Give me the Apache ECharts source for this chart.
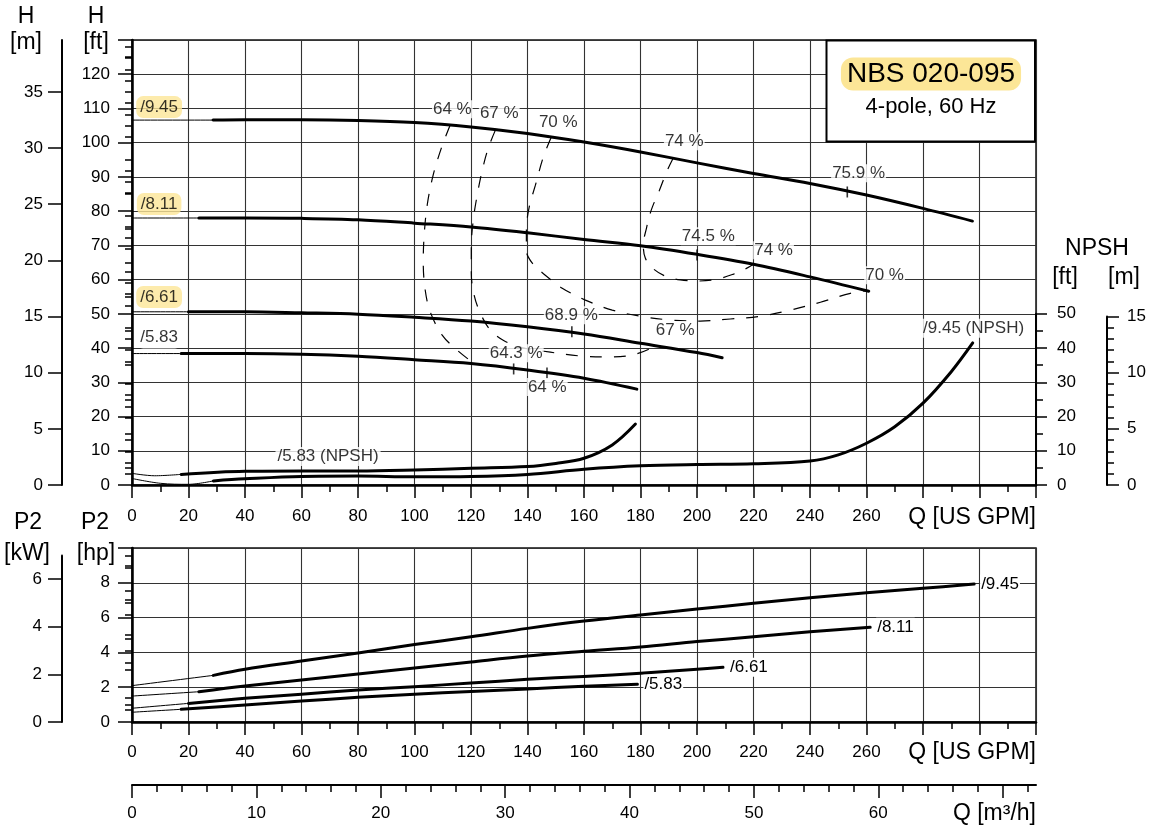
<!DOCTYPE html>
<html><head><meta charset="utf-8">
<script src="https://cdn.jsdelivr.net/npm/echarts@6/dist/echarts.min.js"></script>
<style>html,body{margin:0;padding:0;background:#fff}#c{width:1152px;height:834px}</style>
</head><body><div id="c"></div>
<script>
// ---------- tick labels ----------
const qTickLabels = [0,20,40,60,80,100,120,140,160,180,200,220,240,260];
const hFtTickLabels = [0,10,20,30,40,50,60,70,80,90,100,110,120];
const hMTickLabels = [0,5,10,15,20,25,30,35];
const npshFtTickLabels = [0,10,20,30,40,50];
const npshMTickLabels = [0,5,10,15];
const p2HpTickLabels = [0,2,4,6,8];
const p2KwTickLabels = [0,2,4,6];
const qM3hTicks = [0,10,20,30,40,50,60,70];
const qM3hTickLabels = [0,10,20,30,40,50,60];

// ---------- head curves H [ft] vs Q [US GPM] (index 0 -> 1 is the thin extension) ----------
const qH945 = [0, 28.7, 40, 60, 80, 100, 120, 140, 160, 180, 200, 220, 240, 260, 280, 297.5];
const hH945 = [106.6, 106.6, 106.7, 106.7, 106.5, 105.9, 104.6, 102.7, 100.2, 97.3, 94.1, 91.0, 88.1, 84.7, 80.8, 77.1];
const qH811 = [0, 23.7, 40, 60, 80, 100, 120, 140, 160, 180, 200, 220, 240, 260.8];
const hH811 = [78.0, 78.0, 78.0, 77.9, 77.5, 76.5, 75.4, 73.7, 71.7, 69.9, 67.4, 64.5, 60.8, 56.6];
const qH661 = [0, 20, 40, 60, 80, 100, 120, 140, 160, 180, 200, 208.9];
const hH661 = [50.6, 50.6, 50.6, 50.3, 49.9, 49.0, 47.9, 46.2, 44.1, 41.4, 38.7, 37.2];
const qH583 = [0, 17.4, 40, 60, 80, 100, 120, 140, 160, 178.7];
const hH583 = [38.4, 38.4, 38.4, 38.2, 37.6, 36.6, 35.5, 33.6, 31.2, 28.0];

// ---------- NPSH [ft] ----------
const qN945 = [0, 10, 20, 28.8, 40, 60, 80, 100, 120, 140, 160, 180, 200, 220, 240, 250, 260, 270, 280, 290, 297.6];
const nN945 = [1.9, 0.5, 0.2, 1.2, 1.8, 2.5, 2.6, 2.4, 2.5, 3.1, 4.6, 5.6, 6.0, 6.2, 7.0, 8.8, 12.2, 17.0, 23.9, 33.1, 41.5];
const qN583 = [0, 8, 17.4, 40, 60, 80, 100, 120, 140, 150, 160, 170, 178.2];
const nN583 = [3.4, 2.7, 3.1, 4.0, 4.1, 4.1, 4.4, 4.9, 5.4, 6.3, 7.8, 11.7, 17.8];

// ---------- P2 [hp] ----------
const qP945 = [0, 28.8, 40, 60, 80, 100, 120, 140, 160, 180, 200, 220, 240, 260, 280, 298.1];
const pP945 = [2.09, 2.68, 3.03, 3.5, 3.97, 4.45, 4.9, 5.38, 5.8, 6.15, 6.49, 6.82, 7.14, 7.43, 7.68, 7.93];
const qP811 = [0, 23.7, 40, 60, 80, 100, 120, 140, 160, 180, 200, 220, 240, 261.3];
const pP811 = [1.49, 1.74, 2.07, 2.41, 2.76, 3.1, 3.45, 3.79, 4.06, 4.31, 4.62, 4.9, 5.19, 5.44];
const qP661 = [0, 20, 40, 60, 80, 100, 120, 140, 160, 180, 200, 209.2];
const pP661 = [0.79, 1.07, 1.36, 1.6, 1.84, 2.03, 2.24, 2.45, 2.62, 2.8, 3.03, 3.14];
const qP583 = [0, 17.4, 40, 60, 80, 100, 120, 140, 160, 178.9];
const pP583 = [0.56, 0.73, 0.98, 1.2, 1.42, 1.6, 1.75, 1.9, 2.05, 2.17];

// ---------- iso-efficiency contours (Q, H ft) ----------
const qE64 = [112.6, 109.5, 106.6, 104.5, 103.4, 103.1, 103.8, 105.6, 109.8, 115.1, 120.4];
const hE64 = [105.1, 98.4, 90.5, 81.8, 72.7, 65.1, 56.9, 50.5, 43.8, 39.4, 35.9];
const qE67 = [128.6, 126.1, 124.0, 122.2, 120.8, 120.1, 120.1, 121.1, 123.3, 126.8, 131.4, 137.4, 148.1, 158.7, 169.3, 178.2, 185.3];
const hE67 = [103.6, 98.4, 92.0, 84.7, 77.4, 69.5, 61.9, 55.5, 50.2, 45.3, 42.3, 40.3, 38.8, 37.7, 37.4, 38.2, 40.6];
const qE70 = [148.4, 145.6, 142.8, 140.6, 139.6, 139.6, 141.7, 146.3, 152.3, 160.5, 170.0, 179.9, 190.6, 201.2, 211.8, 222.5, 233.1, 243.7, 254.3, 260.5];
const hE70 = [101.6, 95.8, 87.6, 81.2, 74.5, 68.6, 64.8, 61.3, 57.5, 54.0, 51.1, 49.3, 48.2, 47.9, 48.5, 49.3, 51.1, 53.4, 56.0, 56.8];
const qE74 = [191.6, 189.2, 186.7, 183.8, 182.1, 181.0, 181.7, 184.2, 188.8, 194.1, 200.5, 206.9, 212.9, 217.1, 220.0];
const hE74 = [95.5, 91.4, 86.1, 80.3, 75.0, 70.1, 66.3, 63.4, 61.0, 59.9, 59.6, 60.1, 61.6, 63.1, 64.5];

// ---------- efficiency tick marks on curves ----------
const tickQ = [253.2, 200.0, 155.7, 135.1, 146.9];
const tickH = [85.6, 67.2, 44.8, 33.9, 32.7];

// ---------- annotation texts [text, Q, H] ----------
const effLabels = [
  ['64 %', 113.4, 109.8], ['67 %', 130.0, 108.6], ['70 %', 150.9, 106.0], ['74 %', 195.5, 100.4],
  ['75.9 %', 257.2, 91.1], ['74.5 %', 204.0, 72.7], ['74 %', 227.1, 68.6], ['70 %', 266.4, 61.3],
  ['68.9 %', 155.5, 49.6], ['67 %', 192.3, 45.3], ['64.3 %', 136.0, 38.5], ['64 %', 147.0, 28.6]
];
const nameLabels = [['/9.45', 9.6, 110.4, true], ['/8.11', 9.6, 82.1, true], ['/6.61', 9.6, 54.9, true], ['/5.83', 9.6, 43.1, false]];
const npshLabels = [['/5.83 (NPSH)', 69.4, 8.3], ['/9.45 (NPSH)', 297.9, 45.8]];

// ---------- build ----------
const FONT = "'Liberation Sans', Arial, Helvetica, sans-serif";
const pts = (q, v) => q.map((x, i) => [x, v[i]]);
const range = (a, b, s) => { const r = []; for (let v = a; v <= b + 1e-9; v += s) r.push(+v.toFixed(3)); return r; };
const BLACK = '#000';
const GRIDC = '#333';

function line(data, width, xi, yi, extra) {
  return Object.assign({
    type: 'line', data, xAxisIndex: xi, yAxisIndex: yi, symbol: 'none', showSymbol: false,
    smooth: 0.35, silent: true, animation: false, z: 5,
    lineStyle: { color: BLACK, width: width, cap: 'round', join: 'round' }
  }, extra || {});
}
function split(q, v, k, xi, yi, extra) {
  const all = pts(q, v);
  return [line(all.slice(0, k + 1), 1, xi, yi), line(all.slice(k), 3, xi, yi, extra)];
}

const tickStyle = { color: BLACK, width: 1.5 };
const lblStyle = (margin) => ({ show: true, margin, fontSize: 17, color: BLACK, fontFamily: FONT });

function qAxis(gridIndex, margin) {
  return {
    type: 'value', gridIndex, min: 0, max: 320, interval: 20,
    axisLine: { show: true, onZero: false, lineStyle: { color: BLACK, width: 2.5 } },
    axisTick: { show: true, length: 13, lineStyle: tickStyle },
    minorTick: { show: true, splitNumber: 2, length: 7, lineStyle: tickStyle },
    axisLabel: Object.assign(lblStyle(margin), { customValues: qTickLabels }),
    splitLine: { show: true, lineStyle: { color: GRIDC, width: 1.1 } }
  };
}
function hiddenX(gridIndex) { return { type: 'value', gridIndex, min: 0, max: 1, show: false }; }
function hiddenY(gridIndex) { return { type: 'value', gridIndex, min: 0, max: 1, show: false }; }

const hMMinor = range(0, 39, 1).filter(v => v % 5 !== 0);
const kwMinor = range(0, 7, 0.5).filter(v => v % 2 !== 0);
const m3hMinor = range(0, 72, 2).filter(v => v % 10 !== 0);
const M3H_MAX = 320 / 4.40287;

const option = {
  animation: false,
  backgroundColor: '#fff',
  textStyle: { fontFamily: FONT },
  grid: [
    { left: 132, top: 40, width: 904, height: 445, show: true, borderColor: '#111', borderWidth: 1.5, backgroundColor: 'transparent' },
    { left: 1035, top: 313.75, width: 1, height: 171.25 },
    { left: 1106, top: 316.4, width: 1, height: 168.6 },
    { left: 132, top: 548, width: 904, height: 174, show: true, borderColor: '#111', borderWidth: 1.5, backgroundColor: 'transparent' },
    { left: 132, top: 555.4, width: 904, height: 166.6 },
    { left: 132, top: 784, width: 904, height: 1 },
    { left: 132, top: 40, width: 904, height: 445 },
    { left: 132, top: 555.4, width: 904, height: 166.6 },
    { left: 132, top: 784, width: 904, height: 1 }
  ],
  xAxis: [
    qAxis(0, 23),
    hiddenX(1),
    hiddenX(2),
    qAxis(3, 21.5),
    hiddenX(4),
    { type: 'value', gridIndex: 5, min: 0, max: M3H_MAX, position: 'bottom',
      axisLine: { show: true, onZero: false, lineStyle: { color: BLACK, width: 2 } },
      axisTick: { show: true, length: 13, customValues: qM3hTicks, lineStyle: tickStyle },
      axisLabel: Object.assign(lblStyle(19.5), { customValues: qM3hTickLabels }),
      splitLine: { show: false } },
    hiddenX(6),
    hiddenX(7),
    { type: 'value', gridIndex: 8, min: 0, max: M3H_MAX, position: 'bottom',
      axisLine: { show: false }, axisLabel: { show: false }, splitLine: { show: false },
      axisTick: { show: true, length: 7, customValues: m3hMinor, lineStyle: tickStyle } }
  ],
  yAxis: [
    { type: 'value', gridIndex: 0, min: 0, max: 130, interval: 10, position: 'left',
      axisLine: { show: true, onZero: false, lineStyle: { color: BLACK, width: 2.5 } },
      axisTick: { show: true, length: 14, lineStyle: tickStyle },
      minorTick: { show: true, splitNumber: 2, length: 7, lineStyle: tickStyle },
      axisLabel: Object.assign(lblStyle(22), { customValues: hFtTickLabels }),
      splitLine: { show: true, lineStyle: { color: GRIDC, width: 1.1 } } },
    { type: 'value', gridIndex: 0, min: 0, max: 130 / 3.28084, position: 'left', offset: 70,
      axisLine: { show: true, onZero: false, lineStyle: { color: BLACK, width: 2 } },
      axisTick: { show: true, length: 14, customValues: hMTickLabels, lineStyle: tickStyle },
      axisLabel: Object.assign(lblStyle(19), { customValues: hMTickLabels }),
      splitLine: { show: false } },
    { type: 'value', gridIndex: 1, min: 0, max: 50, interval: 10, position: 'right',
      axisLine: { show: true, onZero: false, lineStyle: { color: BLACK, width: 2 } },
      axisTick: { show: true, length: 11, lineStyle: tickStyle },
      minorTick: { show: true, splitNumber: 2, length: 7, lineStyle: tickStyle },
      axisLabel: Object.assign(lblStyle(21), { customValues: npshFtTickLabels }),
      splitLine: { show: false } },
    { type: 'value', gridIndex: 2, min: 0, max: 15, interval: 5, position: 'right',
      axisLine: { show: true, onZero: false, lineStyle: { color: BLACK, width: 2 } },
      axisTick: { show: true, length: 12, lineStyle: tickStyle },
      minorTick: { show: true, splitNumber: 5, length: 7, lineStyle: tickStyle },
      axisLabel: Object.assign(lblStyle(20), { customValues: npshMTickLabels }),
      splitLine: { show: false } },
    { type: 'value', gridIndex: 3, min: 0, max: 10, interval: 2, position: 'left',
      axisLine: { show: true, onZero: false, lineStyle: { color: BLACK, width: 2.5 } },
      axisTick: { show: true, length: 14, lineStyle: tickStyle },
      minorTick: { show: true, splitNumber: 2, length: 7, lineStyle: tickStyle },
      axisLabel: Object.assign(lblStyle(22), { customValues: p2HpTickLabels }),
      splitLine: { show: true, lineStyle: { color: GRIDC, width: 1.1 } } },
    { type: 'value', gridIndex: 4, min: 0, max: 7, position: 'left', offset: 70,
      axisLine: { show: true, onZero: false, lineStyle: { color: BLACK, width: 2 } },
      axisTick: { show: true, length: 14, customValues: p2KwTickLabels, lineStyle: tickStyle },
      axisLabel: Object.assign(lblStyle(20), { customValues: p2KwTickLabels }),
      splitLine: { show: false } },
    hiddenY(5),
    { type: 'value', gridIndex: 6, min: 0, max: 130 / 3.28084, position: 'left', offset: 70,
      axisLine: { show: false }, axisLabel: { show: false }, splitLine: { show: false },
      axisTick: { show: true, length: 7, customValues: hMMinor, lineStyle: tickStyle } },
    { type: 'value', gridIndex: 7, min: 0, max: 7, position: 'left', offset: 70,
      axisLine: { show: false }, axisLabel: { show: false }, splitLine: { show: false },
      axisTick: { show: true, length: 7, customValues: kwMinor, lineStyle: tickStyle } },
    hiddenY(8)
  ],
  series: [],
  graphic: []
};

const S = option.series;
S.push(...split(qH945, hH945, 1, 0, 0));
S.push(...split(qH811, hH811, 1, 0, 0));
S.push(...split(qH661, hH661, 1, 0, 0));
S.push(...split(qH583, hH583, 1, 0, 0));
S.push(...split(qN945, nN945, 3, 0, 0));
S.push(...split(qN583, nN583, 2, 0, 0));
[[qE64, hE64], [qE67, hE67], [qE70, hE70], [qE74, hE74]].forEach(([q, h]) => {
  S.push(line(pts(q, h), 1.2, 0, 0, { lineStyle: { color: BLACK, width: 1.2, type: [12, 12] }, z: 4 }));
});
S.push({ type: 'scatter', xAxisIndex: 0, yAxisIndex: 0, silent: true, z: 6, animation: false,
  symbol: 'rect', symbolSize: [1.6, 11], itemStyle: { color: BLACK }, data: pts(tickQ, tickH) });
const endLbl = (t) => ({ endLabel: { show: true, formatter: t, color: BLACK, fontSize: 17, fontFamily: FONT,
  backgroundColor: '#fff', padding: [1, 1], distance: 6 } });
S.push(...split(qP945, pP945, 1, 3, 4, endLbl('/9.45')));
S.push(...split(qP811, pP811, 1, 3, 4, endLbl('/8.11')));
S.push(...split(qP661, pP661, 1, 3, 4, endLbl('/6.61')));
S.push(...split(qP583, pP583, 1, 3, 4, endLbl('/5.83')));

function labelSeries(items, labelOpts) {
  return { type: 'scatter', xAxisIndex: 0, yAxisIndex: 0, silent: true, z: 10, animation: false,
    symbol: 'rect', symbolSize: 1, itemStyle: { color: 'rgba(0,0,0,0)' },
    data: items.map(it => ({ value: [it[1], it[2]], label: Object.assign({ formatter: it[0] }, it[3] ? { backgroundColor: '#fce697' } : {}) })),
    label: Object.assign({ show: true, position: 'inside', color: BLACK, fontSize: 17, fontFamily: FONT,
      backgroundColor: '#fff', padding: [1, 1, 0, 1] }, labelOpts || {}) };
}
S.push(labelSeries(effLabels));
S.push(labelSeries(npshLabels, { padding: [1, 2, 1, 2] }));
S.push(labelSeries(nameLabels, { padding: [3, 4, 2, 4], borderRadius: 7 }));

const G = option.graphic;
function txt(t, x, y, size, align) {
  G.push({ type: 'text', silent: true, z: 50, style: { text: t, x, y, fill: BLACK,
    font: size + 'px ' + FONT, textAlign: align || 'center', textVerticalAlign: 'middle' } });
}
txt('H', 26, 17, 23); txt('[m]', 26, 43, 23);
txt('H', 96, 17, 23); txt('[ft]', 96, 43, 23);
txt('NPSH', 1097, 249, 23); txt('[ft]', 1065, 278, 23); txt('[m]', 1124, 278, 23);
txt('P2', 28, 523, 23); txt('[kW]', 27, 554, 23);
txt('P2', 95, 523, 23); txt('[hp]', 96, 554, 23);
txt('Q [US GPM]', 1036, 518, 23, 'right');
txt('Q [US GPM]', 1036, 753, 23, 'right');
txt('Q [m³/h]', 1036, 814, 23, 'right');
G.push({ type: 'rect', silent: true, z: 40, shape: { x: 826.5, y: 40.5, width: 208.5, height: 101 },
  style: { fill: '#fff', stroke: BLACK, lineWidth: 2 } });
G.push({ type: 'text', silent: true, z: 50, style: { text: 'NBS 020-095', x: 931, y: 74, fill: BLACK,
  font: '28px ' + FONT, textAlign: 'center', textVerticalAlign: 'middle',
  backgroundColor: '#fce697', borderRadius: 12, padding: [3, 6, 2, 6] } });
txt('4-pole, 60 Hz', 931, 107, 22);

const chart = echarts.init(document.getElementById('c'), null, { renderer: 'canvas', width: 1152, height: 834 });
chart.setOption(option);
</script></body></html>
